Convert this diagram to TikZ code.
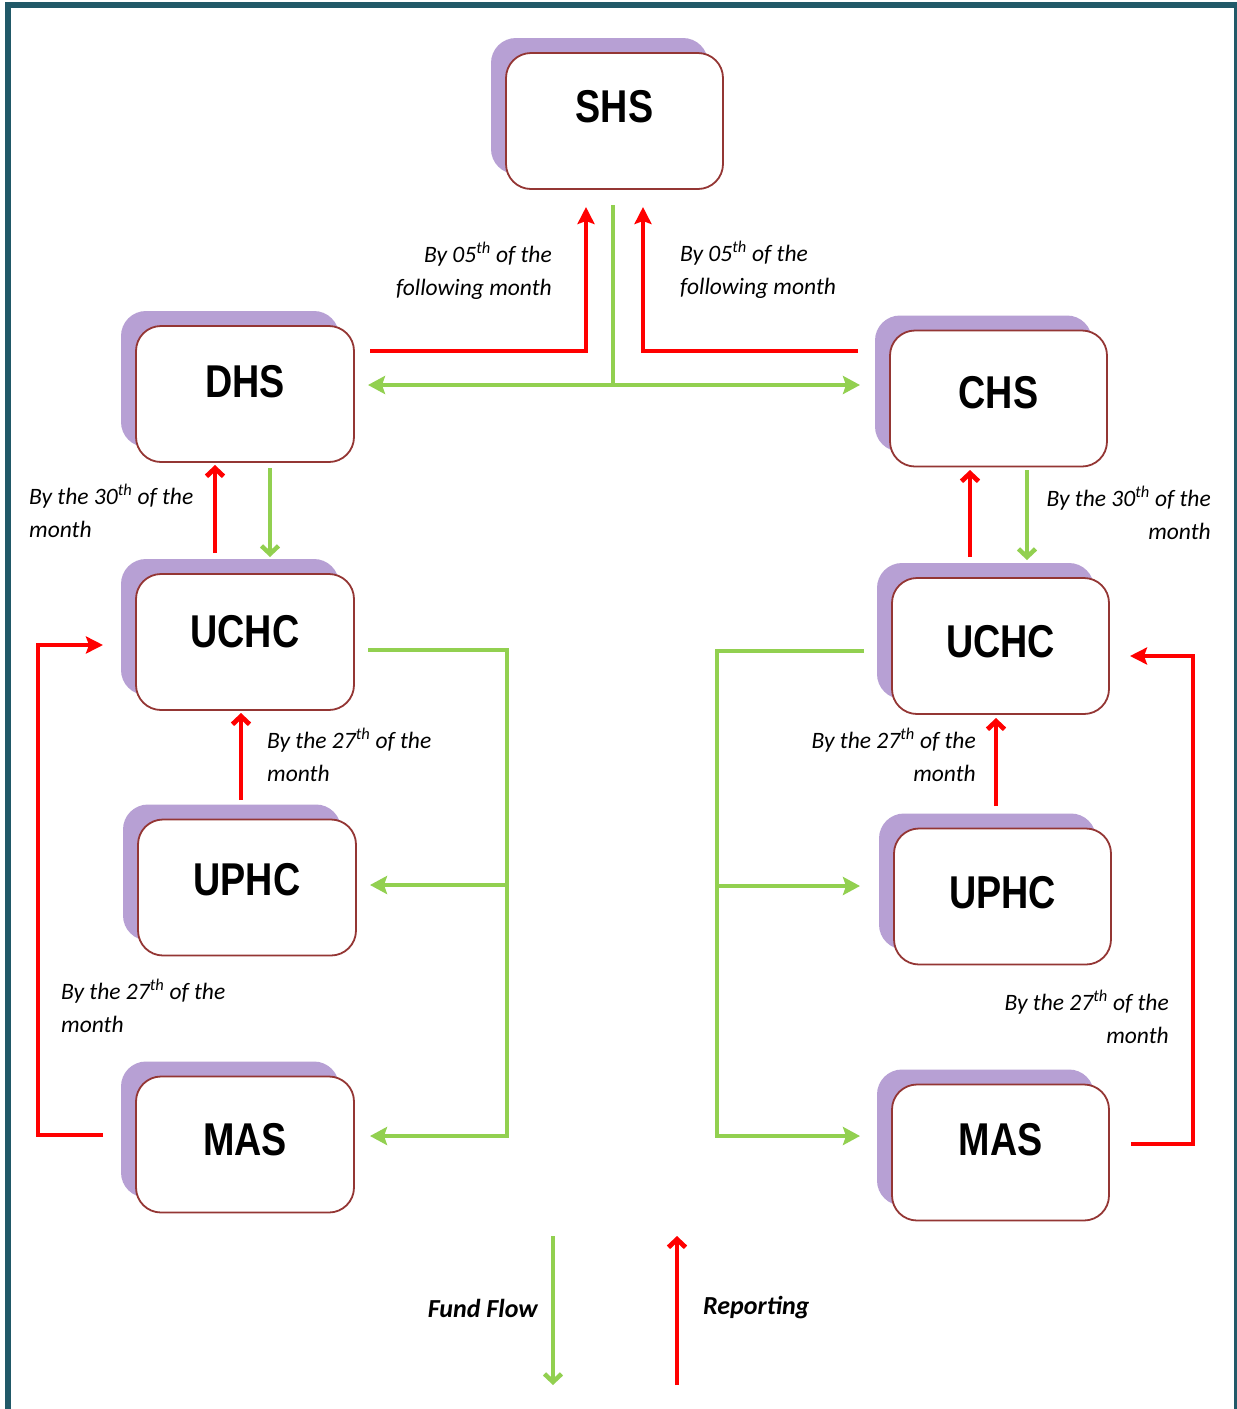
\documentclass[tikz,border=0pt]{standalone}
\usepackage{fontspec}
\setmainfont{Carlito}
\newfontfamily\titlefont[FakeStretch=0.82]{Liberation Sans}
\usetikzlibrary{arrows.meta,shadows}
\definecolor{framecol}{HTML}{215968}
\definecolor{boxred}{HTML}{943634}
\definecolor{shadowpurple}{HTML}{B7A0D4}
\definecolor{arrred}{HTML}{FF0000}
\definecolor{arrgreen}{HTML}{92D050}
\begin{document}
\begin{tikzpicture}[x=1pt,y=-1pt,
  orgbox/.style={draw=boxred, line width=1.8pt, fill=white, rounded corners=25pt,
    minimum width=217pt, minimum height=136pt, inner sep=0pt,
    general shadow={fill=shadowpurple, shadow xshift=-15pt, shadow yshift=15pt}},
  boxtitle/.style={font=\titlefont\bfseries\fontsize{46}{50}\selectfont, inner sep=0pt},
  lbl/.style={font=\itshape\fontsize{23.5}{33}\selectfont, inner sep=0pt},
  legendlbl/.style={font=\bfseries\itshape\fontsize{26}{30}\selectfont, inner sep=0pt},
  redline/.style={draw=arrred, line width=4.8pt},
  greenline/.style={draw=arrgreen, line width=4.5pt},
  redtip/.style={-{Stealth[length=17pt,width=17pt,inset=3pt]}},
  greentip/.style={-{Stealth[length=17pt,width=18pt,inset=3pt]}},
  redbarb/.style={-{Straight Barb[length=8pt,width=17pt]}},
  greenbarb/.style={-{Straight Barb[length=8pt,width=17pt]}}
]
\useasboundingbox (0,0) rectangle (1237,1409);
\fill[white] (0,0) rectangle (1237,1409);
% frame
\draw[framecol, line width=6pt] (8,1420) -- (8,5) -- (1236.5,5) -- (1236.5,1420);

% boxes
\node[orgbox, minimum width=217pt, label={[boxtitle,yshift=14pt]center:SHS}] (SHS) at (614.5,121) {};
\node[orgbox, minimum width=218pt, label={[boxtitle,yshift=12pt]center:DHS}] (DHS) at (245,394) {};
\node[orgbox, label={[boxtitle,yshift=6pt]center:CHS}] (CHS) at (998.5,398.5) {};
\node[orgbox, minimum width=218pt, label={[boxtitle,yshift=10pt]center:UCHC}] (UCHCL) at (245,642) {};
\node[orgbox, minimum width=218pt, label={[boxtitle,yshift=8pt]center:UPHC}] (UPHCL) at (247,887.5) {};
\node[orgbox, minimum width=218pt, label={[boxtitle,yshift=5pt]center:MAS}] (MASL) at (245,1144.5) {};
\node[orgbox, label={[boxtitle,yshift=4pt]center:UCHC}] (UCHCR) at (1000.5,646) {};
\node[orgbox, label={[boxtitle,yshift=4pt]center:UPHC}] (UPHCR) at (1002.5,896.5) {};
\node[orgbox, label={[boxtitle,yshift=13pt]center:MAS}] (MASR) at (1000.5,1152.5) {};

% top connectors
\draw[redline, redtip] (370,351) -| (586,207);
\draw[redline, redtip] (858,351) -| (643,207);
\draw[greenline] (613,205) -- (613,385);
\draw[greenline, greentip] (613,385) -- (368,385);
\draw[greenline, greentip] (613,385) -- (860,385);

% left column
\draw[redline, redbarb] (215,553) -- (215,465);
\draw[greenline, greenbarb] (270,468) -- (270,557);
\draw[redline, redbarb] (241,800) -- (241,713);
\draw[redline, redtip] (103,1135) -- (38,1135) -- (38,645) -- (103,645);
\draw[greenline, greentip] (368,650) -- (507,650) -- (507,1136) -- (370,1136);
\draw[greenline, greentip] (507,885) -- (370,885);

% right column
\draw[redline, redbarb] (970,557) -- (970,470);
\draw[greenline, greenbarb] (1027,470) -- (1027,560);
\draw[redline, redbarb] (996,806) -- (996,718);
\draw[redline, redtip] (1131,1144) -- (1193,1144) -- (1193,656) -- (1130,656);
\draw[greenline, greentip] (864,651) -- (717,651) -- (717,1136) -- (860,1136);
\draw[greenline, greentip] (717,886) -- (860,886);

% legend
\draw[greenline, greenbarb] (553,1236) -- (553,1385);
\draw[redline, redbarb] (677,1385) -- (677,1236);
\node[legendlbl, anchor=east] (ff) at (538,1308) {Fund Flow};
\node[legendlbl, anchor=west] (rp) at (703,1308) {Reporting};

% labels
\node[lbl, anchor=east, align=right] (l1) at (552,271) {By 05\textsuperscript{th} of the\\following month};
\node[lbl, anchor=west, align=left] (l2) at (680,270) {By 05\textsuperscript{th} of the\\following month};
\node[lbl, anchor=west, align=left] (l3) at (29,511) {By the 30\textsuperscript{th} of the\\month};
\node[lbl, anchor=east, align=right] (l4) at (1211,513) {By the 30\textsuperscript{th} of the\\month};
\node[lbl, anchor=west, align=left] (l5) at (267,755) {By the 27\textsuperscript{th} of the\\month};
\node[lbl, anchor=east, align=right] (l6) at (976,755) {By the 27\textsuperscript{th} of the\\month};
\node[lbl, anchor=west, align=left] (l7) at (61,1006) {By the 27\textsuperscript{th} of the\\month};
\node[lbl, anchor=east, align=right] (l8) at (1169,1017) {By the 27\textsuperscript{th} of the\\month};
\end{tikzpicture}
\end{document}
